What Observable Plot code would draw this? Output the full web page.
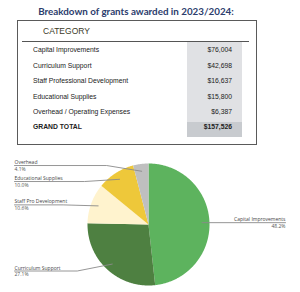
<!DOCTYPE html>
<html><head><meta charset="utf-8">
<script src="https://cdn.jsdelivr.net/npm/d3@7"></script>
<script src="https://cdn.jsdelivr.net/npm/@observablehq/plot@0.6"></script>
<style>
body{margin:0;width:300px;height:292px;position:relative;overflow:hidden;background:#fff;font-family:"Liberation Sans",Arial,sans-serif;}
.abs{position:absolute;white-space:nowrap;}
#title{left:0;width:272px;top:5px;text-align:center;font-family:Lato,sans-serif;font-weight:bold;font-size:9.8px;line-height:13px;color:#2c3d6d;}
#box{left:17px;top:20px;width:238px;height:123px;border:1.5px solid #5a5a5a;}
#hdr{left:43px;top:25px;font-size:8.5px;line-height:12px;color:#3b3a1f;}
#rule{left:22px;top:40.5px;width:227px;height:1.5px;background:#555;}
#colbg{left:187px;top:42px;width:55px;height:80px;background:#e0e1e4;}
#totbg{left:187px;top:122px;width:55px;height:15px;background:#c8cbcf;}
.lab{left:33px;font-size:6.8px;color:#222;height:15.4px;line-height:15.4px;}
.val{left:187px;width:45px;text-align:right;font-size:6.8px;color:#222;height:15.4px;line-height:15.4px;}
.tot{font-weight:bold;}
#chart{left:0;top:150px;}
</style></head>
<body>
<script>
const title = "Breakdown of grants awarded in 2023/2024:";
const header = "CATEGORY";
const categories = ["Capital Improvements","Curriculum Support","Staff Professional Development","Educational Supplies","Overhead / Operating Expenses"];
const amounts = [76004, 42698, 16637, 15800, 6387];
const amountLabels = ["$76,004","$42,698","$16,637","$15,800","$6,387"];
const totalLabel = "GRAND TOTAL";
const totalValue = "$157,526";
const pieLabels = ["Capital Improvements","Curriculum Support","Staff Pro Development","Educational Supplies","Overhead"];
const pieColors = ["#5db35e","#4e8041","#fff3ce","#eec83a","#bfbfbf"];

function add(id, cls, text, style){
  const d = document.createElement("div");
  if(id) d.id = id;
  d.className = "abs " + (cls||"");
  if(text) d.textContent = text;
  if(style) Object.assign(d.style, style);
  document.body.appendChild(d);
  return d;
}
add("title","",title);
add("box");
add("hdr","",header);
add("rule");
add("colbg");
add("totbg");
const rowH = 15.4, rowTop = 42.3;
categories.forEach((c,i)=>{
  add(null,"lab",c,{top:(rowTop+i*rowH)+"px"});
  add(null,"val",amountLabels[i],{top:(rowTop+i*rowH)+"px"});
});
add(null,"lab tot",totalLabel,{top:(rowTop+5*rowH)+"px"});
add(null,"val tot",totalValue,{top:(rowTop+5*rowH)+"px"});

// pie geometry
const total = d3.sum(amounts);
const slices = [];
let cum = 0;
amounts.forEach((v,i)=>{
  const a0 = cum/total*2*Math.PI; cum += v; const a1 = cum/total*2*Math.PI;
  slices.push({name:pieLabels[i], a0, a1, mid:(a0+a1)/2, pct:(v/total*100).toFixed(1)+"%"});
});
const polys = [];
for(const s of slices){
  polys.push({name:s.name,x:0,y:0});
  const n = Math.max(2, Math.ceil((s.a1-s.a0)/0.01));
  for(let k=0;k<=n;k++){const a=s.a0+(s.a1-s.a0)*k/n; polys.push({name:s.name,x:Math.sin(a),y:Math.cos(a)});}
}
const px = 1/61;
const leftX = -134*px, rightX = 137*px;
const labels = slices.map(s=>({...s, side: Math.sin(s.mid)>=0?"right":"left", ly: Math.cos(s.mid)-0.025, ix:0.88*Math.sin(s.mid), iy:0.88*Math.cos(s.mid)}));
const leftL = labels.filter(l=>l.side==="left").sort((a,b)=>b.ly-a.ly);
for(let i=1;i<leftL.length;i++){ if(leftL[i].ly > leftL[i-1].ly-16*px) leftL[i].ly = leftL[i-1].ly-16*px; }
const rightL = labels.filter(l=>l.side==="right");
const leaders = [];
for(const l of labels){
  if(l.side==="left"){
    leaders.push({name:l.name,x:leftX,y:l.ly},{name:l.name,x:l.ix-35*px,y:l.ly},{name:l.name,x:l.ix,y:l.iy});
  } else {
    leaders.push({name:l.name,x:rightX,y:l.ly},{name:l.name,x:l.ix,y:l.ly});
  }
}

const chart = Plot.plot({
  width:300, height:142,
  marginLeft:87, marginRight:91, marginTop:13, marginBottom:7,
  x:{domain:[-1,1], axis:null},
  y:{domain:[-1,1], axis:null},
  color:{type:"ordinal", domain:pieLabels, range:pieColors},
  style:{fontFamily:"'Open Sans',sans-serif", background:"transparent", overflow:"visible"},
  marks:[
    Plot.line(polys,{x:"x",y:"y",z:"name",fill:"name",stroke:null}),
    Plot.line(leaders,{x:"x",y:"y",z:"name",stroke:"#8a8a8a",strokeWidth:0.9}),
    Plot.text(leftL,{x:()=>leftX,y:"ly",text:"name",textAnchor:"start",lineAnchor:"bottom",dy:-1.5,fontSize:5,fill:"#444"}),
    Plot.text(leftL,{x:()=>leftX,y:"ly",text:"pct",textAnchor:"start",lineAnchor:"top",dy:1.5,fontSize:5,fill:"#555"}),
    Plot.text(rightL,{x:()=>rightX,y:"ly",text:"name",textAnchor:"end",lineAnchor:"bottom",dy:-1.5,fontSize:5,fill:"#444"}),
    Plot.text(rightL,{x:()=>rightX,y:"ly",text:"pct",textAnchor:"end",lineAnchor:"top",dy:1.5,fontSize:5,fill:"#555"})
  ]
});
const wrap = add("chart");
wrap.appendChild(chart);
</script>
</body></html>
